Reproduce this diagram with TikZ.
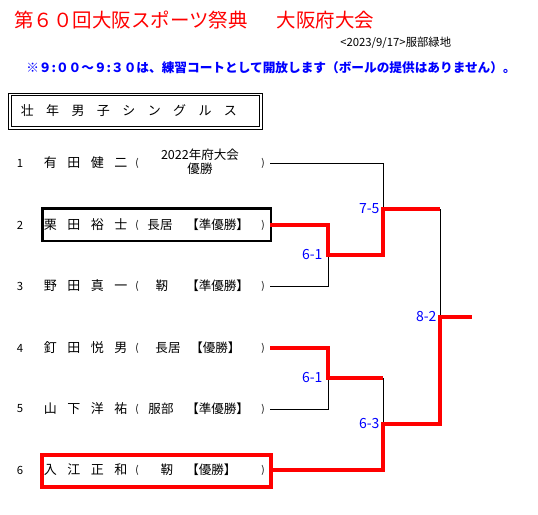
\documentclass[tikz,border=0pt]{standalone}
\usepackage{fontspec}
\setmainfont{Noto Sans CJK JP}
\usetikzlibrary{positioning}
\newcommand{\gp}{\hspace{7.9pt}}
\newcommand{\tgp}{\hspace{9.3pt}}

\begin{document}
\begin{tikzpicture}[
    x=0.75pt, y=-0.75pt,
    txt/.style={inner sep=0pt, font=\fontsize{9.4pt}{11pt}\selectfont},
    num/.style={txt, font=\fontsize{8.5pt}{10pt}\selectfont},
    plyr/.style={txt, anchor=west, font=\fontsize{9.75pt}{11pt}\selectfont},
    res/.style={txt, anchor=west},
    paren/.style={txt, font=\fontsize{7.5pt}{9pt}\selectfont},
    score/.style={inner sep=0pt, text=blue, font=\fontsize{10.5pt}{11pt}\selectfont},
    frame/.style={draw, line width=0.75pt, inner sep=0pt},
    thinline/.style={line width=0.75pt},
    redline/.style={red, line width=3pt},
]
    \fill[white] (0,0) rectangle (538,514);
    \useasboundingbox (0,0) rectangle (538,514);

    % Heading
    \node[anchor=west, inner sep=0pt, text=red, font=\fontsize{14.6pt}{16pt}\selectfont] (title) at (14,20)
        {第６０回大阪スポーツ祭典\hspace{1.5em}大阪府大会};
    \node[anchor=west, inner sep=0pt, font=\fontsize{8.5pt}{10pt}\selectfont] (place) at (340,43) {<2023/9/17>服部緑地};
    \node[anchor=west, inner sep=0pt, text=blue, font=\bfseries\fontsize{9.5pt}{11pt}\selectfont] (note) at (26,68)
        {※９:００～９:３０は、練習コートとして開放します（ボールの提供はありません）。};

    % Event box
    \node[frame, minimum width=190pt, minimum height=27pt] (evout) at (135.5,111) {};
    \node[frame, minimum width=186.5pt, minimum height=23.5pt] (evin) at (135.5,111) {};
    \node[anchor=west, inner sep=0pt, font=\fontsize{9.75pt}{11pt}\selectfont] (event) at (20.5,111)
        {壮\tgp 年\tgp 男\tgp 子\tgp シ\tgp ン\tgp グ\tgp ル\tgp ス};

    % Players
    \node[num] (n1) at (20,163) {1};
    \node[plyr] (p1) at (43.5,163) {有\gp 田\gp 健\gp 二};
    \node[paren] (lp1) at (137,163) {(};
    \node[txt, align=center, font=\fontsize{9.4pt}{10.5pt}\selectfont] (c1) at (200,162) {2022年府大会\\優勝};
    \node[paren] (rp1) at (263,163) {)};

    \node[num] (n2) at (20,225) {2};
    \node[plyr] (p2) at (43.5,225) {栗\gp 田\gp 裕\gp 士};
    \node[paren] (lp2) at (137,225) {(};
    \node[txt] (c2) at (160,225) {長居};
    \node[res] (r2) at (186,225) {【準優勝】};
    \node[paren] (rp2) at (263,225) {)};

    \node[num] (n3) at (20,286) {3};
    \node[plyr] (p3) at (43.5,286) {野\gp 田\gp 真\gp 一};
    \node[paren] (lp3) at (137,286) {(};
    \node[txt] (c3) at (162,286) {靭};
    \node[res] (r3) at (186,286) {【準優勝】};
    \node[paren] (rp3) at (263,286) {)};

    \node[num] (n4) at (20,348) {4};
    \node[plyr] (p4) at (43.5,348) {釘\gp 田\gp 悦\gp 男};
    \node[paren] (lp4) at (137,348) {(};
    \node[txt] (c4) at (168,348) {長居};
    \node[res] (r4) at (190,348) {【優勝】};
    \node[paren] (rp4) at (263,348) {)};

    \node[num] (n5) at (20,409) {5};
    \node[plyr] (p5) at (43.5,409) {山\gp 下\gp 洋\gp 祐};
    \node[paren] (lp5) at (137,409) {(};
    \node[txt] (c5) at (161,409) {服部};
    \node[res] (r5) at (186,409) {【準優勝】};
    \node[paren] (rp5) at (263,409) {)};

    \node[num] (n6) at (20,470) {6};
    \node[plyr] (p6) at (43.5,470) {入\gp 江\gp 正\gp 和};
    \node[paren] (lp6) at (137,470) {(};
    \node[txt] (c6) at (167,470) {靭};
    \node[res] (r6) at (186,470) {【優勝】};
    \node[paren] (rp6) at (263,470) {)};

    % Highlight boxes
    \node[draw=black, line width=2pt, minimum width=171.5pt, minimum height=24.5pt, inner sep=0pt] (hl2) at (156.5,224.5) {};
    \node[draw=red, line width=3pt, minimum width=171.5pt, minimum height=24pt, inner sep=0pt] (hl6) at (156.5,471) {};

    % Line ends and match points
    \coordinate (e1) at (270,163);
    \coordinate (e2) at (270,225);
    \coordinate (e3) at (270,286);
    \coordinate (e4) at (270,348);
    \coordinate (e5) at (270,409);
    \coordinate (e6) at (270,470);
    \coordinate (mA) at (328,255);
    \coordinate (mB) at (328,378);
    \coordinate (mC) at (383,209);
    \coordinate (mD) at (383,424);
    \coordinate (mF) at (440,317);
    \coordinate (champ) at (472,317);

    % Losing sides
    \draw[thinline] (e1) -| (mC);
    \draw[thinline] (e3) -| (mA);
    \draw[thinline] (e5) -| (mB);
    \draw[thinline] (mB -| mD) -- (mD);
    \draw[thinline] (mC -| mF) -- (mF);

    % Winning sides
    \draw[redline] (e2) -| (mA) -| (mC) -- (mC -| mF);
    \draw[redline] (e4) -| (mB) -- (mB -| mD);
    \draw[redline] (e6) -| (mD) -| (mF) -- (champ);

    % Scores
    \node[score, left=4pt of mA] (sA) {6-1};
    \node[score, left=4pt of mB] (sB) {6-1};
    \node[score, left=2.5pt of mC] (sC) {7-5};
    \node[score, left=2.5pt of mD] (sD) {6-3};
    \node[score, left=2.5pt of mF] (sF) {8-2};

\end{tikzpicture}
\end{document}
